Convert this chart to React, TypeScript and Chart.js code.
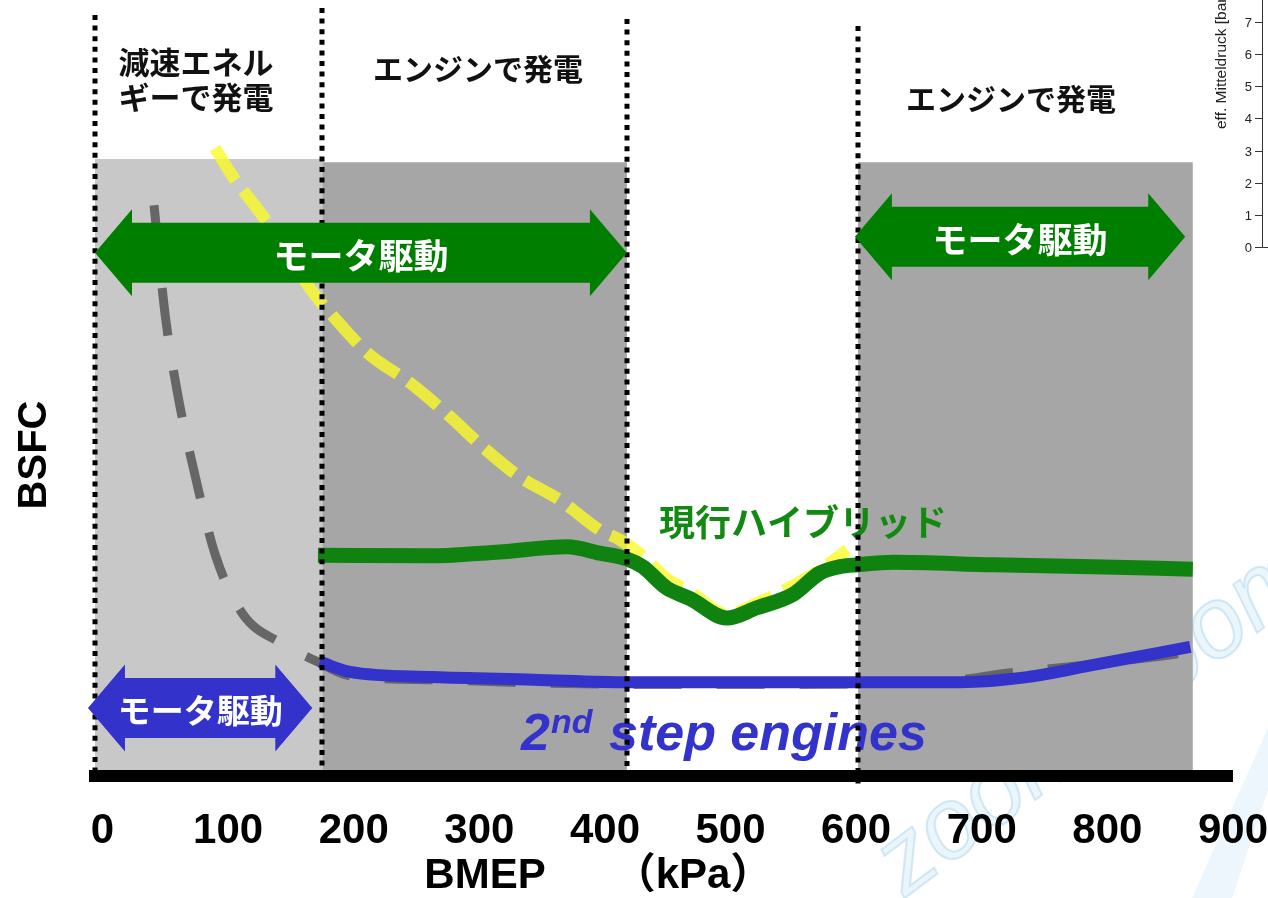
import React, { useEffect, useRef } from "react";
import { Chart, registerables } from "chart.js";

Chart.register(...registerables);

// ---- axis / label text ----
const xTickValues = [0, 100, 200, 300, 400, 500, 600, 700, 800, 900];
const xAxisTitle = "BMEP";
const xAxisUnit = "（kPa）";
const yAxisTitle = "BSFC";

// ---- operating regions (BMEP, kPa) ----
const regionEdges = [-6, 175, 417.5, 601.5, 868];
const regionLabels = [["減速エネル", "ギーで発電"], ["エンジンで発電"], [], ["エンジンで発電"]];
const motorLabel = "モータ駆動";
const hybridLabel = "現行ハイブリッド";
const stepLabel = ["2", "nd", "step engines"];

// ---- series (BMEP kPa vs relative BSFC) ----
// conventional engine (grey dashed)
const conventionalX = [41, 50, 60, 74, 90, 111, 143, 171, 197, 263, 343, 418, 539, 683, 715, 789, 868];
const conventionalY = [88.9, 71.6, 59.3, 46.5, 34.3, 25.4, 20.6, 17.8, 15.6, 15.0, 14.5, 14.3, 14.3, 15.0, 15.9, 17.4, 19.3];
// current hybrid engine (yellow dashed)
const hybridEngineX = [89.5, 104, 128, 168, 184, 211, 245, 277, 303, 332, 364, 396, 412, 430, 449, 468, 497, 523, 551, 571, 593];
const hybridEngineY = [97.8, 93.3, 87.1, 75.2, 71.5, 65.9, 61.2, 55.9, 51.2, 46.6, 43.0, 38.3, 36.8, 34.3, 30.8, 28.7, 25.2, 27.1, 29.8, 32.1, 35.2];
// current hybrid system (green)
const hybridX = [171.5, 263, 316, 370, 396, 417.5, 430, 449, 468, 497, 521, 550, 571, 587, 601, 629, 709, 789, 868];
const hybridY = [34.4, 34.3, 34.9, 35.7, 34.7, 33.8, 32.6, 29.3, 27.6, 24.6, 26.2, 28.3, 31.6, 32.6, 32.9, 33.3, 32.9, 32.6, 32.2];
// 2nd step engines (blue)
const stepX = [173, 197, 263, 343, 418, 539, 683, 736, 789, 866];
const stepY = [17.8, 16.2, 15.4, 15.0, 14.6, 14.6, 14.6, 15.4, 17.3, 20.1];

// ---- cropped neighbour chart at the top right ----
const miniTicks = ["0", "1", "2", "3", "4", "5", "6", "7"];
const miniTitle = "eff. Mitteldruck [bar]";
const watermarkText = "zoom-zoom";

const CJK = '"Noto Sans CJK JP", "Noto Sans CJK SC", sans-serif';
const SANS = '"Liberation Sans", Arial, sans-serif';
const SANS_CJK = '"Liberation Sans", "Noto Sans CJK JP", sans-serif';

const pts = (xs: number[], ys: number[]) => xs.map((x, i) => ({ x, y: ys[i] }));

function doubleArrow(ctx: CanvasRenderingContext2D, xl: number, xr: number, yc: number, color: string) {
  const head = 37, shaft = 30, headH = 43.5;
  ctx.beginPath();
  ctx.moveTo(xl, yc);
  ctx.lineTo(xl + head, yc - headH);
  ctx.lineTo(xl + head, yc - shaft);
  ctx.lineTo(xr - head, yc - shaft);
  ctx.lineTo(xr - head, yc - headH);
  ctx.lineTo(xr, yc);
  ctx.lineTo(xr - head, yc + headH);
  ctx.lineTo(xr - head, yc + shaft);
  ctx.lineTo(xl + head, yc + shaft);
  ctx.lineTo(xl + head, yc + headH);
  ctx.closePath();
  ctx.fillStyle = color;
  ctx.fill();
}

const decor = {
  id: "decor",
  beforeDraw(chart: any) {
    const ctx: CanvasRenderingContext2D = chart.ctx;
    ctx.save();
    // faint watermark
    ctx.fillStyle = "rgba(200,228,246,0.35)";
    ctx.beginPath();
    ctx.moveTo(1192, 898);
    ctx.lineTo(1268, 728);
    ctx.lineTo(1268, 790);
    ctx.lineTo(1232, 898);
    ctx.closePath();
    ctx.fill();
    ctx.translate(905, 898);
    ctx.rotate((-37 * Math.PI) / 180);
    ctx.font = `italic 100px ${SANS}`;
    ctx.textBaseline = "alphabetic";
    ctx.fillStyle = "rgba(215,236,249,0.5)";
    ctx.fillText(watermarkText, 0, 0);
    ctx.lineWidth = 2;
    ctx.strokeStyle = "rgba(170,214,238,0.5)";
    ctx.strokeText(watermarkText, 0, 0);
    ctx.restore();
  },
  beforeDatasetsDraw(chart: any) {
    const ctx: CanvasRenderingContext2D = chart.ctx;
    const { x, y } = chart.scales;
    const boxes = [
      { from: 0, top: 96.1, color: "#c8c8c8" },
      { from: 1, top: 95.6, color: "#a6a6a6" },
      { from: 3, top: 95.6, color: "#a6a6a6" },
    ];
    ctx.save();
    for (const b of boxes) {
      const x0 = x.getPixelForValue(regionEdges[b.from]);
      const x1 = x.getPixelForValue(regionEdges[b.from + 1]);
      const y0 = y.getPixelForValue(b.top);
      const y1 = y.getPixelForValue(0);
      ctx.fillStyle = b.color;
      ctx.fillRect(x0, y0, x1 - x0, y1 - y0);
    }
    ctx.restore();
  },
  afterDatasetsDraw(chart: any) {
    const ctx: CanvasRenderingContext2D = chart.ctx;
    const { x, y } = chart.scales;
    ctx.save();

    // series labels
    ctx.textAlign = "left";
    ctx.textBaseline = "middle";
    ctx.fillStyle = "#128a12";
    ctx.font = `bold 36px ${CJK}`;
    ctx.fillText(hybridLabel, 659, 522);

    ctx.fillStyle = "#3333cc";
    ctx.textBaseline = "alphabetic";
    ctx.font = `italic bold 52px ${SANS}`;
    ctx.fillText(stepLabel[0], 521, 750);
    ctx.font = `italic bold 34px ${SANS}`;
    ctx.fillText(stepLabel[1], 551, 733);
    ctx.font = `italic bold 52px ${SANS}`;
    ctx.fillText(stepLabel[2], 609, 750);

    // dotted region separators
    const dotTops = [15, 8, 19, 26];
    const dotBottoms = [776, 776, 776, 787];
    ctx.strokeStyle = "#000";
    ctx.lineWidth = 5;
    ctx.setLineDash([5, 5.6]);
    for (let i = 0; i < 4; i++) {
      const X = Math.round(x.getPixelForValue(regionEdges[i]));
      ctx.beginPath();
      ctx.moveTo(X, dotTops[i]);
      ctx.lineTo(X, dotBottoms[i]);
      ctx.stroke();
    }
    ctx.setLineDash([]);

    // motor-drive arrows
    const arrows = [
      { from: -6, to: 417.5, level: 81.5, color: "#007e00", size: 35 },
      { from: 599, to: 862, level: 84.0, color: "#007e00", size: 35 },
      { from: -11.6, to: 167, level: 10.6, color: "#3333cc", size: 33 },
    ];
    for (const a of arrows) {
      const xl = x.getPixelForValue(a.from);
      const xr = x.getPixelForValue(a.to);
      const yc = y.getPixelForValue(a.level);
      doubleArrow(ctx, xl, xr, yc, a.color);
      ctx.fillStyle = "#fff";
      ctx.font = `bold ${a.size}px ${CJK}`;
      ctx.textAlign = "center";
      ctx.textBaseline = "middle";
      ctx.fillText(motorLabel, (xl + xr) / 2, yc + 3);
    }

    // region captions at the top
    ctx.fillStyle = "#111";
    ctx.textBaseline = "middle";
    ctx.textAlign = "center";
    ctx.font = `bold 31px ${CJK}`;
    ctx.fillText(regionLabels[0][0], 196, 62);
    ctx.fillText(regionLabels[0][1], 196, 97);
    ctx.font = `bold 30px ${CJK}`;
    ctx.fillText(regionLabels[1][0], 478, 69);
    ctx.fillText(regionLabels[3][0], 1011, 99);

    // x axis title
    ctx.fillStyle = "#000";
    ctx.textBaseline = "alphabetic";
    ctx.font = `bold 42px ${SANS}`;
    ctx.fillText(xAxisTitle, 485, 888);
    ctx.font = `bold 42px ${SANS_CJK}`;
    ctx.fillText(xAxisUnit, 693, 888);

    // cropped neighbour chart axis (top right)
    ctx.strokeStyle = "#333";
    ctx.lineWidth = 1;
    ctx.beginPath();
    ctx.moveTo(1262.5, 0);
    ctx.lineTo(1262.5, 247.5);
    ctx.lineTo(1268, 247.5);
    const miniY = [247, 215, 183, 151, 118, 86, 54, 22];
    for (let i = 0; i < miniTicks.length; i++) {
      ctx.moveTo(1255, miniY[i] + 0.5);
      ctx.lineTo(1262.5, miniY[i] + 0.5);
    }
    ctx.stroke();
    ctx.fillStyle = "#222";
    ctx.font = `13px ${SANS}`;
    ctx.textAlign = "right";
    ctx.textBaseline = "middle";
    for (let i = 0; i < miniTicks.length; i++) ctx.fillText(miniTicks[i], 1252, miniY[i] + 1);
    ctx.translate(1222, 129);
    ctx.rotate(-Math.PI / 2);
    ctx.textAlign = "left";
    ctx.font = `15.5px ${SANS}`;
    ctx.fillText(miniTitle, 0, 0);

    ctx.restore();
  },
};

export default function App() {
  const ref = useRef<HTMLCanvasElement | null>(null);

  useEffect(() => {
    if (!ref.current) return;
    const chart = new Chart(ref.current, {
      type: "line",
      data: {
        datasets: [
          {
            label: "現行ハイブリッド",
            data: pts(hybridX, hybridY),
            borderColor: "#0f820f",
            borderWidth: 15,
            pointRadius: 0,
            cubicInterpolationMode: "monotone",
            borderCapStyle: "butt",
            borderJoinStyle: "round",
          },
          {
            label: "2nd step engines",
            data: pts(stepX, stepY),
            borderColor: "#3333cc",
            borderWidth: 12,
            pointRadius: 0,
            cubicInterpolationMode: "monotone",
            borderCapStyle: "butt",
          },
          {
            label: "hybrid engine",
            data: pts(hybridEngineX, hybridEngineY),
            borderColor: "rgba(250,250,40,0.8)",
            borderWidth: 12,
            borderDash: [38, 13],
            pointRadius: 0,
            cubicInterpolationMode: "monotone",
            borderCapStyle: "butt",
          },
          {
            label: "conventional engine",
            data: pts(conventionalX, conventionalY),
            borderColor: "#666666",
            borderWidth: 9,
            borderDash: [48, 35],
            pointRadius: 0,
            cubicInterpolationMode: "monotone",
            borderCapStyle: "butt",
          },
        ],
      },
      options: {
        animation: false,
        responsive: false,
        maintainAspectRatio: false,
        devicePixelRatio: 1,
        layout: { padding: { left: 0, right: 0, top: 134, bottom: 12 } },
        plugins: { legend: { display: false }, tooltip: { enabled: false } },
        scales: {
          x: {
            type: "linear",
            min: -6,
            max: 900,
            afterBuildTicks: (s: any) => {
              s.ticks = xTickValues.map((v) => ({ value: v }));
            },
            grid: { display: false, drawTicks: false },
            border: { display: true, color: "#000", width: 12, z: 1 },
            ticks: {
              autoSkip: false,
              maxRotation: 0,
              padding: 0,
              color: "#000",
              font: { family: SANS, size: 42, weight: "bold", lineHeight: 2.62 },
            },
          },
          y: {
            type: "linear",
            min: 0,
            max: 100,
            grid: { display: false, drawTicks: false },
            border: { display: false },
            ticks: { display: false },
            title: {
              display: true,
              text: yAxisTitle,
              color: "#000",
              font: { family: SANS, size: 40, weight: "bold" },
              padding: { top: 11, bottom: 36 },
            },
          },
        },
      },
      plugins: [decor],
    } as any);
    return () => chart.destroy();
  }, []);

  return (
    <div style={{ position: "fixed", left: 0, top: 0, width: 1268, height: 898, background: "#fff" }}>
      <canvas ref={ref} width={1268} height={898} style={{ display: "block", width: 1268, height: 898 }} />
    </div>
  );
}
